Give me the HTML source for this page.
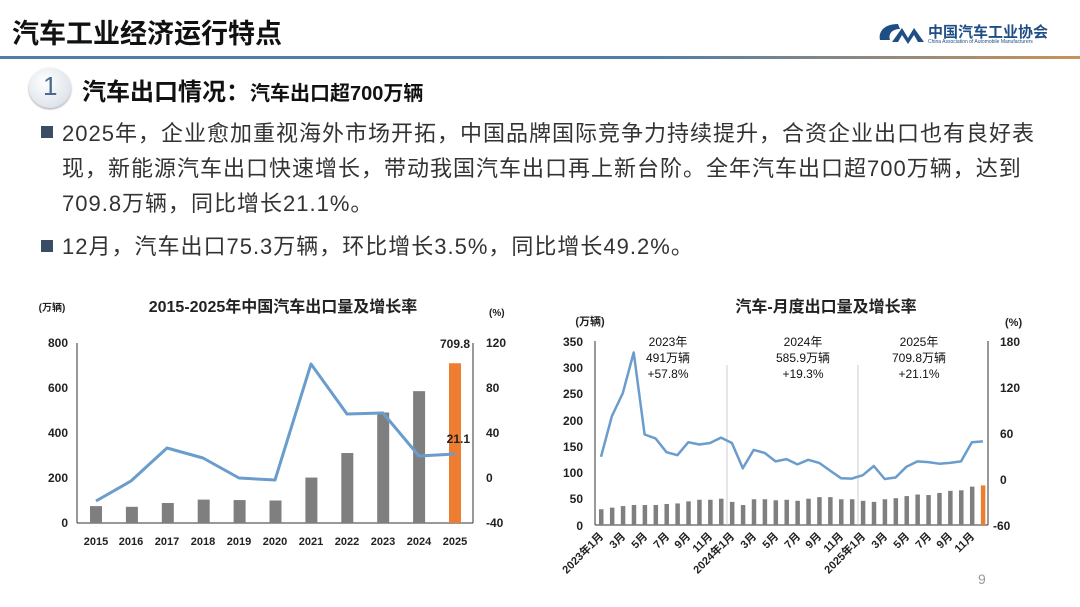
<!DOCTYPE html>
<html><head><meta charset="utf-8"><style>
body{margin:0;width:1080px;height:607px;background:#fff;overflow:hidden;font-family:"Liberation Sans","Noto Sans CJK SC",sans-serif;position:relative}
.t{position:absolute;white-space:nowrap;color:#222}
</style></head><body>
<div class="t" style="left:12px;top:12px;font-size:27px;font-weight:bold;color:#111">汽车工业经济运行特点</div>
<div style="position:absolute;left:0;top:56px;width:1080px;height:3px;background:linear-gradient(90deg,#4f7ea8 0%,#4f7ea8 60%,#c9925a 100%)"></div>
<svg style="position:absolute;left:876px;top:20px" width="52" height="26"><path d="M22 4 C8 4 2 12 4 20 L14 20 C12 14 16 9 24 9 Z" fill="#1f4e85"/><path d="M16 22 L26 8 L32 18 L38 8 L48 22 L42 22 L38 15 L32 24 L26 15 L22 22Z" fill="#1f4e85"/></svg>
<div class="t" style="left:928px;top:21px;font-size:15px;font-weight:bold;color:#1f4e85">中国汽车工业协会</div>
<div class="t" style="left:928px;top:39px;font-size:5px;color:#1f4e85">China Association of Automobile Manufacturers</div>
<div style="position:absolute;left:29px;top:68px;width:42px;height:40px;border-radius:50%;background:radial-gradient(circle at 40% 35%,#fff,#dfe5ec 70%,#b9c3cf);box-shadow:0 1px 2px #999"></div>
<div class="t" style="left:43px;top:71px;font-size:26px;color:#4a6a8f">1</div>
<div class="t" style="left:82px;top:72px;font-size:24px;font-weight:bold;color:#111">汽车出口情况：<span style="font-size:20px">汽车出口超700万辆</span></div>
<div style="position:absolute;left:41px;top:126px;width:12px;height:12px;background:#3b4d63"></div>
<div class="t" style="left:62px;top:116px;font-size:22px;line-height:35px;color:#333;letter-spacing:1px">2025年，企业愈加重视海外市场开拓，中国品牌国际竞争力持续提升，合资企业出口也有良好表<br>现，新能源汽车出口快速增长，带动我国汽车出口再上新台阶。全年汽车出口超700万辆，达到<br>709.8万辆，同比增长21.1%。</div>
<div style="position:absolute;left:41px;top:240px;width:12px;height:12px;background:#3b4d63"></div>
<div class="t" style="left:62px;top:229px;font-size:22px;line-height:35px;color:#333;letter-spacing:1px">12月，汽车出口75.3万辆，环比增长3.5%，同比增长49.2%。</div>

<svg style="position:absolute;left:0;top:0" width="1080" height="607" font-family="Liberation Sans, Noto Sans CJK SC, sans-serif" font-weight="bold" fill="#222">
<text x="283" y="312" font-size="16" text-anchor="middle">2015-2025年中国汽车出口量及增长率</text>
<text x="52" y="311" font-size="10" text-anchor="middle">(万辆)</text>
<text x="489" y="316" font-size="10">(%)</text>
<g font-size="12" text-anchor="end"><text x="68" y="347">800</text><text x="68" y="392">600</text><text x="68" y="437">400</text><text x="68" y="482">200</text><text x="68" y="527">0</text></g>
<g font-size="12"><text x="486" y="347">120</text><text x="486" y="392">80</text><text x="486" y="437">40</text><text x="486" y="482">0</text><text x="486" y="527">-40</text></g>
<line x1="77" y1="343" x2="77" y2="523" stroke="#333"/><line x1="473" y1="343" x2="473" y2="523" stroke="#333"/><line x1="77" y1="523" x2="473" y2="523" stroke="#333"/>
<g id="lb"></g>
<polyline points="96,501 131,481 167,448 203,458 239,478 275,480 311,364 347,414 383,413 419,456 455,454" fill="none" stroke="#6a9ccc" stroke-width="3" stroke-linejoin="round"/>
<text x="455" y="348" font-size="12" text-anchor="middle">709.8</text>
<text x="470" y="443" font-size="12" text-anchor="end">21.1</text>
<g font-size="11" text-anchor="middle"><text x="96" y="545">2015</text><text x="131" y="545">2016</text><text x="167" y="545">2017</text><text x="203" y="545">2018</text><text x="239" y="545">2019</text><text x="275" y="545">2020</text><text x="311" y="545">2021</text><text x="347" y="545">2022</text><text x="383" y="545">2023</text><text x="419" y="545">2024</text><text x="455" y="545">2025</text></g>

<text x="826" y="312" font-size="16" text-anchor="middle">汽车-月度出口量及增长率</text>
<text x="590" y="325" font-size="11" text-anchor="middle">(万辆)</text>
<text x="1005" y="326" font-size="11">(%)</text>
<g font-size="12" text-anchor="end"><text x="583" y="346">350</text><text x="583" y="372">300</text><text x="583" y="398">250</text><text x="583" y="425">200</text><text x="583" y="451">150</text><text x="583" y="477">100</text><text x="583" y="503">50</text><text x="583" y="530">0</text></g>
<g font-size="12"><text x="1000" y="346">180</text><text x="1000" y="392">120</text><text x="1000" y="438">60</text><text x="1000" y="484">0</text><text x="993" y="530">-60</text></g>
<line x1="595" y1="341" x2="595" y2="525" stroke="#333"/><line x1="988" y1="341" x2="988" y2="525" stroke="#333"/><line x1="595" y1="525" x2="988" y2="525" stroke="#333"/>
<line x1="727" y1="365" x2="727" y2="525" stroke="#ccc"/><line x1="858" y1="365" x2="858" y2="525" stroke="#ccc"/>
<g id="rb"></g>
<polyline id="rl" fill="none" stroke="#6a9ccc" stroke-width="2.5" stroke-linejoin="round"/>
<g font-size="12" font-weight="normal" text-anchor="middle" fill="#111"><text x="668" y="346">2023年</text><text x="668" y="362">491万辆</text><text x="668" y="378">+57.8%</text>
<text x="803" y="346">2024年</text><text x="803" y="362">585.9万辆</text><text x="803" y="378">+19.3%</text>
<text x="919" y="346">2025年</text><text x="919" y="362">709.8万辆</text><text x="919" y="378">+21.1%</text></g>
<g font-size="11" text-anchor="end">
<text x="604" y="537" transform="rotate(-45 604 537)">2023年1月</text>
<text x="626" y="537" transform="rotate(-45 626 537)">3月</text>
<text x="648" y="537" transform="rotate(-45 648 537)">5月</text>
<text x="670" y="537" transform="rotate(-45 670 537)">7月</text>
<text x="691" y="537" transform="rotate(-45 691 537)">9月</text>
<text x="713" y="537" transform="rotate(-45 713 537)">11月</text>
<text x="735" y="537" transform="rotate(-45 735 537)">2024年1月</text>
<text x="757" y="537" transform="rotate(-45 757 537)">3月</text>
<text x="779" y="537" transform="rotate(-45 779 537)">5月</text>
<text x="801" y="537" transform="rotate(-45 801 537)">7月</text>
<text x="822" y="537" transform="rotate(-45 822 537)">9月</text>
<text x="844" y="537" transform="rotate(-45 844 537)">11月</text>
<text x="866" y="537" transform="rotate(-45 866 537)">2025年1月</text>
<text x="888" y="537" transform="rotate(-45 888 537)">3月</text>
<text x="910" y="537" transform="rotate(-45 910 537)">5月</text>
<text x="932" y="537" transform="rotate(-45 932 537)">7月</text>
<text x="953" y="537" transform="rotate(-45 953 537)">9月</text>
<text x="975" y="537" transform="rotate(-45 975 537)">11月</text>
</g>
<text x="978" y="584" font-size="14" font-weight="normal" fill="#999">9</text>
</svg>
<script>
var NS="http://www.w3.org/2000/svg";
function r(g,x,y,w,h,c){var e=document.createElementNS(NS,"rect");e.setAttribute("x",x);e.setAttribute("y",y);e.setAttribute("width",w);e.setAttribute("height",h);e.setAttribute("fill",c);document.getElementById(g).appendChild(e);}
var lv=[75,72,89,104,102,100,202,311,491,586,710];
lv.forEach(function(v,i){var x=96+i*35.9;r("lb",x-6,523-v*0.225,12,v*0.225,i==10?"#ed7d31":"#7f7f7f");});
var bv=[30,33,36,38,38,38,40,41,45,48,48,50,44,38,49,49,47,48,46,50,53,53,49,49,46,44,49,51,55,58,57,61,65,66,73,75.3];
var pv=[29,82,112,165,58,53,35,31,48,45,47,54,47,14,38,34,23,26,19,25,21,11,1,0.5,5,17,0,2,16,23,22,20,21,23,48,49];
var pts=[];
bv.forEach(function(v,i){var x=601+i*10.91,h=v*184/350;r("rb",x-2,525-h,4.5,h,i==35?"#ed7d31":"#7f7f7f");pts.push(x.toFixed(1)+","+(341+(180-pv[i])*184/240).toFixed(1));});
document.getElementById("rl").setAttribute("points",pts.join(" "));
</script>
</body></html>
